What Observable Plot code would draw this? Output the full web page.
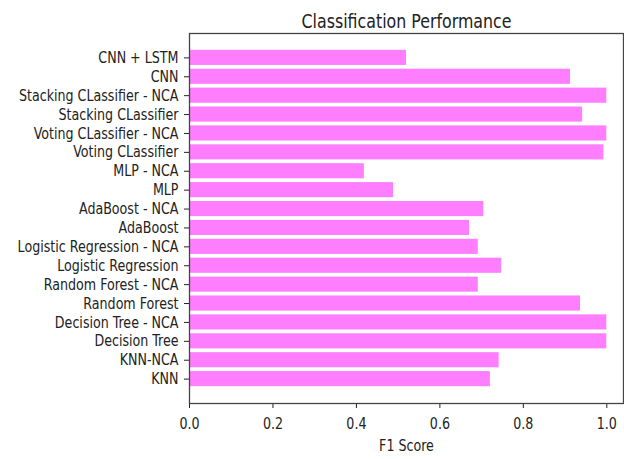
<!DOCTYPE html>
<html><head><meta charset="utf-8">
<script src="https://cdn.jsdelivr.net/npm/d3@7"></script>
<script src="https://cdn.jsdelivr.net/npm/@observablehq/plot@0.6"></script>
<style>body{margin:0;background:#fff}</style>
</head><body><div id="chart"></div>
<script>
const models = ["CNN + LSTM","CNN","Stacking CLassifier - NCA","Stacking CLassifier","Voting CLassifier - NCA","Voting CLassifier","MLP - NCA","MLP","AdaBoost - NCA","AdaBoost","Logistic Regression - NCA","Logistic Regression","Random Forest - NCA","Random Forest","Decision Tree - NCA","Decision Tree","KNN-NCA","KNN"];
const f1Scores = [0.52,0.913,1.0,0.942,1.0,0.993,0.419,0.489,0.705,0.671,0.692,0.748,0.692,0.937,1.0,1.0,0.742,0.721];
const xTicks = [0,0.2,0.4,0.6,0.8,1.0];
const title = "Classification Performance";
const xLabel = "F1 Score";
const data = models.map((m,i)=>({model:m, f1:f1Scores[i]}));
const chart = Plot.plot({
  width: 624, height: 459,
  marginTop: 33, marginBottom: 56, marginLeft: 189, marginRight: 1,
  style: {fontFamily: "'DejaVu Sans Condensed', 'DejaVu Sans', sans-serif", fontSize: "16px", color: "#222", background: "#fff"},
  x: {domain: [0, 1.04], ticks: xTicks, tickFormat: d3.format(".1f"), tickSize: 5, tickPadding: 9, label: null},
  y: {domain: models, paddingInner: 0.2, paddingOuter: 0.89, round: false, tickSize: 5, tickPadding: 6, label: null},
  marks: [
    Plot.barX(data, {x: "f1", y: "model", fill: "#ff7dff"}),
    Plot.frame({stroke: "#444", strokeWidth: 1.3}),
    Plot.text([title], {frameAnchor: "top", dy: -20, fontSize: 20, fill: "#222"}),
    Plot.text([xLabel], {frameAnchor: "bottom", dy: 47, fontSize: 16, fill: "#222"})
  ]
});
document.getElementById("chart").appendChild(chart);
const sx = 0.88;
chart.querySelectorAll("text").forEach(t => {
  const x = +(t.getAttribute("x") || 0);
  const tr = t.getAttribute("transform") || "";
  t.setAttribute("transform", `${tr} translate(${x},0) scale(${sx},1) translate(${-x},0)`);
});
</script>
</body></html>
